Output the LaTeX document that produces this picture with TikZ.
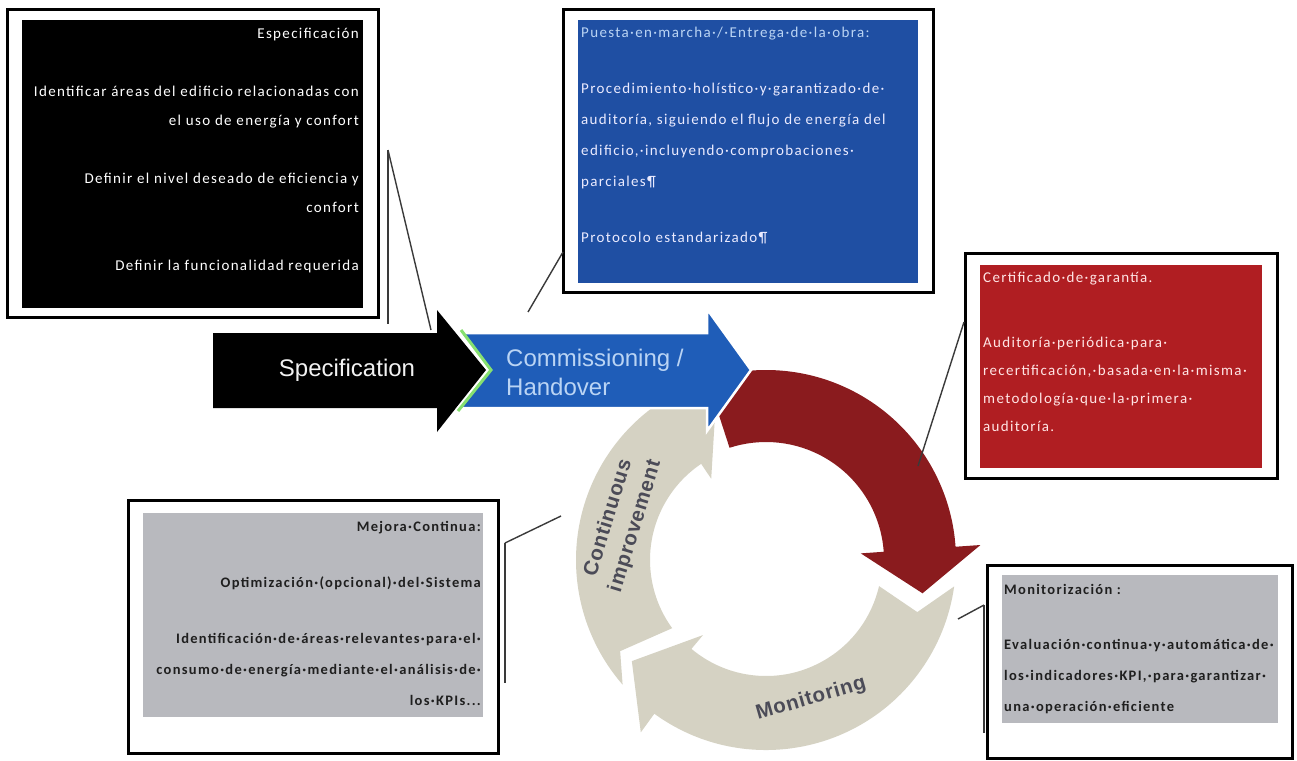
\documentclass[tikz,border=0pt]{standalone}
\usepackage{fontspec}
\setmainfont{Carlito}
\newfontfamily\boxfont[LetterSpace=9]{Carlito}
\newfontfamily\arialf{Liberation Sans}
\newfontfamily\ringf[LetterSpace=4]{Liberation Sans}
\definecolor{ringgray}{HTML}{D5D2C3}
\definecolor{ringred}{HTML}{8A1B1E}
\definecolor{arrowblue}{HTML}{1F5DB8}
\definecolor{panelblue}{HTML}{1F4FA3}
\definecolor{panelred}{HTML}{B01E22}
\definecolor{panelgray}{HTML}{B8B9BE}
\definecolor{chevgreen}{HTML}{86E070}
\definecolor{commtext}{HTML}{BAD4F4}
\definecolor{conncol}{HTML}{3A3A3A}
\definecolor{ringtext}{HTML}{4B4B57}
\begin{document}
\begin{tikzpicture}[x=1pt,y=1pt,
  frame/.style={draw=black, line width=3pt, fill=white, inner sep=0pt},
  panel/.style={draw=none, inner sep=0pt},
  boxtext/.style={inner sep=0pt, font=\boxfont\fontsize{15}{29}\selectfont},
  conn/.style={draw=conncol, line width=1.4pt},
  arrowlabel/.style={inner sep=0pt, font=\arialf\fontsize{24}{29}\selectfont},
  ringlabel/.style={inner sep=0pt, text=ringtext, font=\ringf\bfseries\fontsize{20.5}{28}\selectfont}]
\useasboundingbox (0,0) rectangle (1297,-760);
\fill[white] (0,0) rectangle (1297,-760);

% ---------- ring arrows ----------
\begin{scope}[shift={(766,-560)}]
  \fill[ringgray] (221:190) -- (212:172) -- (216:116)
     arc[start angle=216,end angle=124,radius=116] -- (124:98) -- (108:163) -- (124:222) -- (124:190)
     arc[start angle=124,end angle=221,radius=190] -- cycle;
  \fill[ringgray] (-8:190) -- (-19:160) -- (-13:116)
     arc[start angle=-13,end angle=-130,radius=116] -- (-130:98) -- (-143:168) -- (-126:213) -- (-126:190)
     arc[start angle=-126,end angle=-8,radius=190] -- cycle;
  \fill[ringred] (108:190) arc[start angle=108,end angle=4,radius=190] -- (4:215) -- (-12:160) -- (4:95) -- (4:118)
     arc[start angle=4,end angle=108,radius=118] -- cycle;
\end{scope}

% ---------- straight arrows ----------
\fill[black] (213,-333) -- (437,-333) -- (437,-310) -- (486,-370) -- (437,-432) -- (437,-408) -- (213,-408) -- cycle;
\filldraw[fill=arrowblue, draw=white, line width=2.5pt, line join=miter]
  (460,-333) -- (707,-333) -- (707,-309) -- (751,-370) -- (707,-431) -- (707,-408) -- (458,-408) -- (490,-370) -- cycle;
\draw[chevgreen, line width=3pt] (461,-330) -- (491,-370) -- (458,-411);

\node[arrowlabel, text=white!90!gray] (spec) at (347,-370) {Specification};
\node[arrowlabel, text=commtext, anchor=west, align=left] (comm) at (506,-372) {Commissioning /\\Handover};

\node[ringlabel, rotate=73, align=center] (ci) at (622,-522) {Continuous\\improvement};
\node[ringlabel, rotate=16] (mon) at (811,-699) {Monitoring};

% ---------- box 1 : Especificación ----------
\node[frame, minimum width=371pt, minimum height=307pt] (f1) at (192.5,-163.5) {};
\node[panel, fill=black, minimum width=341pt, minimum height=288pt] (p1) at (192.5,-164) {};
\node[boxtext, text=white, anchor=north east, align=right] (t1) at (359,-28)
  {Especificación\\[29pt]
   Identificar áreas del edificio relacionadas con\\
   el uso de energía y confort\\[29pt]
   Definir el nivel deseado de eficiencia y\\
   confort\\[29pt]
   Definir la funcionalidad requerida};

% ---------- box 2 : Puesta en marcha ----------
\node[frame, minimum width=370pt, minimum height=282pt] (f2) at (748,-151) {};
\node[panel, fill=panelblue, minimum width=340pt, minimum height=263pt] (p2) at (748,-151.5) {};
\node[boxtext, text=white!92!blue, anchor=north west, align=left, font=\boxfont\fontsize{15}{31}\selectfont] (t2) at (581,-27)
  {\textcolor{commtext}{Puesta·en·marcha·/·Entrega·de·la·obra:}\\[25pt]
   Procedimiento·holístico·y·garantizado·de·\\
   auditoría, siguiendo el flujo de energía del\\
   edificio,·incluyendo·comprobaciones·\\
   parciales¶\\[25pt]
   Protocolo estandarizado¶};

% ---------- box 3 : Certificado ----------
\node[frame, minimum width=312pt, minimum height=225pt] (f3) at (1121,-365.5) {};
\node[panel, fill=panelred, minimum width=282pt, minimum height=203pt] (p3) at (1121,-366.5) {};
\node[boxtext, text=white!90!red, anchor=north west, align=left, font=\boxfont\fontsize{15}{28}\selectfont] (t3) at (983,-272)
  {Certificado·de·garantía.\\[37pt]
   Auditoría·periódica·para·\\
   recertificación,·basada·en·la·misma·\\
   metodología·que·la·primera·\\
   auditoría.};

% ---------- box 4 : Mejora continua ----------
\node[frame, minimum width=370pt, minimum height=253pt] (f4) at (313,-626.5) {};
\node[panel, fill=panelgray, minimum width=340pt, minimum height=204pt] (p4) at (313,-615) {};
\node[boxtext, text=black!88, anchor=north east, align=right, font=\boxfont\bfseries\fontsize{14.5}{31}\selectfont] (t4) at (481,-521)
  {Mejora·Continua:\\[25pt]
   Optimización·(opcional)·del·Sistema\\[25pt]
   Identificación·de·áreas·relevantes·para·el·\\
   consumo·de·energía·mediante·el·análisis·de·\\
   los·KPIs...};

% ---------- box 5 : Monitorización ----------
\node[frame, minimum width=305pt, minimum height=193pt] (f5) at (1139.5,-661.5) {};
\node[panel, fill=panelgray, minimum width=276pt, minimum height=148pt] (p5) at (1140,-649) {};
\node[boxtext, text=black!88, anchor=north west, align=left, font=\boxfont\bfseries\fontsize{14.5}{31}\selectfont] (t5) at (1004,-584)
  {Monitorización :\\[24pt]
   Evaluación·continua·y·automática·de·\\
   los·indicadores·KPI,·para·garantizar·\\
   una·operación·eficiente};

% ---------- callout connectors ----------
\coordinate (c1a) at (388,-150);
\coordinate (c1b) at (388,-324);
\coordinate (c1c) at (431,-330);
\draw[conn] (c1a) -- (c1b);
\draw[conn] (c1a) -- (c1c);

\coordinate (c2a) at (528,-312);
\coordinate (c2b) at (563,-252);
\draw[conn] (c2a) -- (c2b);

\coordinate (c3a) at (918,-466);
\coordinate (c3b) at (964,-322);
\draw[conn] (c3a) -- (c3b);

\coordinate (c4a) at (505,-543);
\coordinate (c4b) at (505,-683);
\coordinate (c4c) at (561,-516);
\draw[conn] (c4a) -- (c4b);
\draw[conn] (c4a) -- (c4c);

\coordinate (c5a) at (984,-605);
\coordinate (c5b) at (984,-733);
\coordinate (c5c) at (958,-619);
\draw[conn] (c5a) -- (c5b);
\draw[conn] (c5a) -- (c5c);
\end{tikzpicture}
\end{document}
